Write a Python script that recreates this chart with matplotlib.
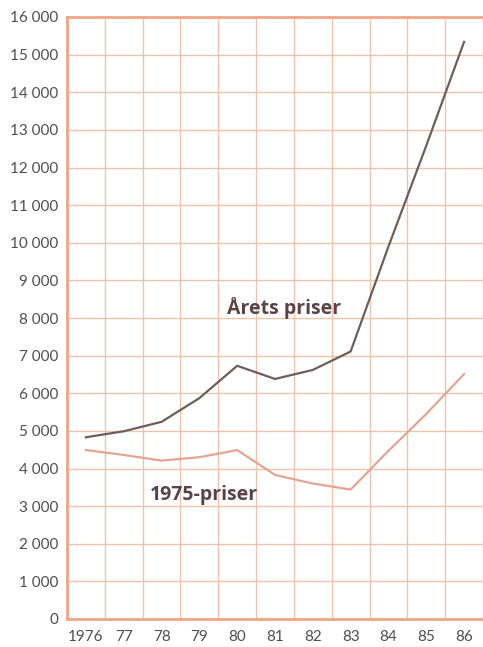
import matplotlib
matplotlib.use("Agg")
import matplotlib.pyplot as plt
import numpy as np

years = [1976, 1977, 1978, 1979, 1980, 1981, 1982, 1983, 1984, 1985, 1986]
year_labels = ["1976", "77", "78", "79", "80", "81", "82", "83", "84", "85", "86"]
arets_priser = [4830, 4990, 5240, 5870, 6730, 6380, 6620, 7110, 9900, 12580, 15340]
priser_1975 = [4490, 4360, 4210, 4300, 4490, 3830, 3600, 3440, 4470, 5450, 6510]
y_ticks = list(range(0, 16001, 1000))
y_labels = ["0"] + [f"{v // 1000} 000" for v in y_ticks[1:]]

plt.rcParams['font.family'] = ['Lato', 'DejaVu Sans']

fig = plt.figure(figsize=(4.83, 6.47), dpi=100)
ax = fig.add_axes([67/483, 1 - 619/647, 1 - 67/483, (619 - 17)/647])

grid_c = "#ecc3ad"
ax.plot(years, arets_priser, color="#6e5e58", lw=1.6, zorder=3)
ax.plot(years, priser_1975, color="#e2a590", lw=1.6, zorder=3)

ax.set_xlim(1975.5, 1986.5)
ax.set_ylim(0, 16000)
ax.set_xticks(years)
ax.set_xticklabels(year_labels)
ax.set_xticks(np.arange(1975.5, 1987, 1.0), minor=True)
ax.set_yticks(y_ticks)
ax.set_yticklabels(y_labels)
ax.grid(True, which="minor", axis="x", color=grid_c, lw=1.0)
ax.grid(True, which="major", axis="y", color=grid_c, lw=1.0)
ax.tick_params(which="both", length=0)
ax.tick_params(axis="y", labelsize=11, labelcolor="#4e4e4e", pad=6)
ax.tick_params(axis="x", labelsize=11, labelcolor="#4e4e4e", pad=8)

for s in ["left", "bottom", "top"]:
    ax.spines[s].set_color("#f0a585")
    ax.spines[s].set_linewidth(2.0)
ax.spines["right"].set_visible(False)

lab_font = dict(family=["Open Sans", "DejaVu Sans"], fontsize=14,
                fontweight="bold", color="#5a4347", ha="center", va="center")
ax.text(1981.24, 8270, "Årets priser", **lab_font)
ax.text(1979.12, 3300, "1975-priser", **lab_font)

fig.savefig("out.png", dpi=100)
